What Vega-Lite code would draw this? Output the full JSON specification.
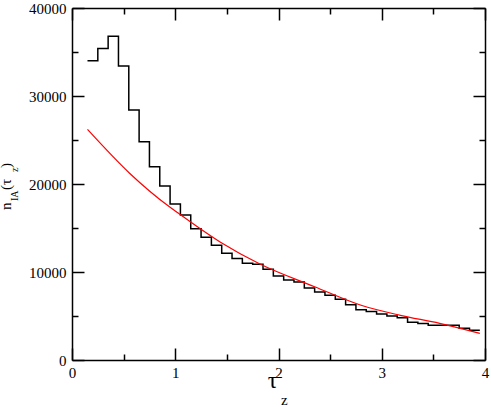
{
  "$schema": "https://vega.github.io/schema/vega-lite/v6.json",
  "width": 413,
  "height": 352,
  "autosize": {"type": "none"},
  "padding": {"left": 72, "top": 8, "right": 6, "bottom": 47},
  "background": "white",
  "config": {
    "view": {"stroke": null},
    "axis": {"grid": false, "domainColor": "black", "tickColor": "black", "labelColor": "black", "labelFont": "Liberation Serif", "labelFontSize": 15, "domainWidth": 1.5, "tickWidth": 1.5}
  },
  "datasets": {
    "hist": [
      {"t": 0.15, "n": 34000}, {"t": 0.25, "n": 35400}, {"t": 0.35, "n": 36800}, {"t": 0.45, "n": 33400},
      {"t": 0.55, "n": 28400}, {"t": 0.65, "n": 24800}, {"t": 0.75, "n": 21950}, {"t": 0.85, "n": 19780},
      {"t": 0.95, "n": 17730}, {"t": 1.05, "n": 16480}, {"t": 1.15, "n": 14920}, {"t": 1.25, "n": 13940},
      {"t": 1.35, "n": 13030}, {"t": 1.45, "n": 12120}, {"t": 1.55, "n": 11520}, {"t": 1.65, "n": 10990},
      {"t": 1.75, "n": 10870}, {"t": 1.85, "n": 10320}, {"t": 1.95, "n": 9545}, {"t": 2.05, "n": 9090},
      {"t": 2.15, "n": 8860}, {"t": 2.25, "n": 8180}, {"t": 2.35, "n": 7730}, {"t": 2.45, "n": 7350},
      {"t": 2.55, "n": 6900}, {"t": 2.65, "n": 6290}, {"t": 2.75, "n": 5700}, {"t": 2.85, "n": 5500},
      {"t": 2.95, "n": 5240}, {"t": 3.05, "n": 5010}, {"t": 3.15, "n": 4810}, {"t": 3.25, "n": 4300},
      {"t": 3.35, "n": 4140}, {"t": 3.45, "n": 3940}, {"t": 3.55, "n": 3940}, {"t": 3.65, "n": 3940},
      {"t": 3.75, "n": 3600}, {"t": 3.85, "n": 3380}, {"t": 3.95, "n": 3380}
    ],
    "fit": [
      {"t": 0.15, "n": 26200}, {"t": 0.56, "n": 21200}, {"t": 0.95, "n": 17350}, {"t": 1.04, "n": 16590},
      {"t": 1.43, "n": 13440}, {"t": 1.82, "n": 10910}, {"t": 2.35, "n": 8330}, {"t": 2.8, "n": 6220},
      {"t": 3.18, "n": 5080}, {"t": 3.56, "n": 4170}, {"t": 3.95, "n": 3030}
    ]
  },
  "layer": [
    {
      "data": {"name": "hist"},
      "mark": {"type": "line", "interpolate": "step-after", "color": "black", "strokeWidth": 1.5},
      "encoding": {
        "x": {"field": "t", "type": "quantitative", "scale": {"domain": [0, 4], "nice": false, "zero": false},
          "axis": {"orient": "bottom", "title": null, "values": [0, 0.5, 1, 1.5, 2, 2.5, 3, 3.5, 4],
            "labelExpr": "datum.value % 1 === 0 ? format(datum.value, 'd') : ''",
            "tickSize": {"condition": {"test": "datum.value % 1 === 0", "value": -12}, "value": -6},
            "labelPadding": 17, "labelFlush": false, "labelOverlap": false, "labelBound": false}},
        "y": {"field": "n", "type": "quantitative", "scale": {"domain": [0, 40000], "nice": false, "zero": false},
          "axis": {"orient": "left", "title": null, "values": [0, 5000, 10000, 15000, 20000, 25000, 30000, 35000, 40000],
            "labelExpr": "datum.value % 10000 === 0 ? format(datum.value, 'd') : ''",
            "tickSize": {"condition": {"test": "datum.value % 10000 === 0", "value": -12}, "value": -6},
            "labelPadding": 18, "labelFlush": false, "labelOverlap": false}}
      }
    },
    {
      "data": {"name": "fit"},
      "mark": {"type": "line", "interpolate": "monotone", "color": "#ff0000", "strokeWidth": 1.2},
      "encoding": {
        "x": {"field": "t", "type": "quantitative", "scale": {"domain": [0, 4], "nice": false, "zero": false},
          "axis": {"orient": "top", "title": null, "labels": false, "values": [0, 0.5, 1, 1.5, 2, 2.5, 3, 3.5, 4],
            "tickSize": {"condition": {"test": "datum.value % 1 === 0", "value": -12}, "value": -6}}},
        "y": {"field": "n", "type": "quantitative", "scale": {"domain": [0, 40000], "nice": false, "zero": false},
          "axis": {"orient": "right", "title": null, "labels": false, "values": [0, 5000, 10000, 15000, 20000, 25000, 30000, 35000, 40000],
            "tickSize": {"condition": {"test": "datum.value % 10000 === 0", "value": -12}, "value": -6}}}
      }
    },
    {
      "data": {"values": [{"s": "τ"}]},
      "mark": {"type": "text", "align": "center", "baseline": "alphabetic", "font": "Liberation Serif", "fontSize": 24, "color": "black"},
      "encoding": {
        "x": {"datum": 1.942, "type": "quantitative", "scale": {"domain": [0, 4], "nice": false, "zero": false}, "axis": null},
        "y": {"datum": -3182, "type": "quantitative", "scale": {"domain": [0, 40000], "nice": false, "zero": false}, "axis": null},
        "text": {"field": "s"}
      }
    },
    {
      "data": {"values": [{"s": "z"}]},
      "mark": {"type": "text", "align": "left", "baseline": "alphabetic", "font": "Liberation Serif", "fontSize": 15, "color": "black"},
      "encoding": {
        "x": {"datum": 2.024, "type": "quantitative", "scale": {"domain": [0, 4], "nice": false, "zero": false}, "axis": null},
        "y": {"datum": -5114, "type": "quantitative", "scale": {"domain": [0, 40000], "nice": false, "zero": false}, "axis": null},
        "text": {"field": "s"}
      }
    },
    {
      "data": {"values": [{"s": "n"}]},
      "mark": {"type": "text", "angle": 270, "align": "left", "baseline": "alphabetic", "font": "Liberation Serif", "fontSize": 15, "color": "black"},
      "encoding": {
        "x": {"datum": -0.59, "type": "quantitative", "scale": {"domain": [0, 4], "nice": false, "zero": false}, "axis": null},
        "y": {"datum": 17045, "type": "quantitative", "scale": {"domain": [0, 40000], "nice": false, "zero": false}, "axis": null},
        "text": {"field": "s"}
      }
    },
    {
      "data": {"values": [{"s": "IA"}]},
      "mark": {"type": "text", "angle": 270, "align": "left", "baseline": "alphabetic", "font": "Liberation Serif", "fontSize": 10, "color": "black"},
      "encoding": {
        "x": {"datum": -0.525, "type": "quantitative", "scale": {"domain": [0, 4], "nice": false, "zero": false}, "axis": null},
        "y": {"datum": 18068, "type": "quantitative", "scale": {"domain": [0, 40000], "nice": false, "zero": false}, "axis": null},
        "text": {"field": "s"}
      }
    },
    {
      "data": {"values": [{"s": "(τ"}]},
      "mark": {"type": "text", "angle": 270, "align": "left", "baseline": "alphabetic", "font": "Liberation Serif", "fontSize": 15, "color": "black"},
      "encoding": {
        "x": {"datum": -0.59, "type": "quantitative", "scale": {"domain": [0, 4], "nice": false, "zero": false}, "axis": null},
        "y": {"datum": 19318, "type": "quantitative", "scale": {"domain": [0, 40000], "nice": false, "zero": false}, "axis": null},
        "text": {"field": "s"}
      }
    },
    {
      "data": {"values": [{"s": "z"}]},
      "mark": {"type": "text", "angle": 270, "align": "left", "baseline": "alphabetic", "font": "Liberation Serif", "fontSize": 10, "color": "black"},
      "encoding": {
        "x": {"datum": -0.525, "type": "quantitative", "scale": {"domain": [0, 4], "nice": false, "zero": false}, "axis": null},
        "y": {"datum": 21364, "type": "quantitative", "scale": {"domain": [0, 40000], "nice": false, "zero": false}, "axis": null},
        "text": {"field": "s"}
      }
    },
    {
      "data": {"values": [{"s": ")"}]},
      "mark": {"type": "text", "angle": 270, "align": "left", "baseline": "alphabetic", "font": "Liberation Serif", "fontSize": 15, "color": "black"},
      "encoding": {
        "x": {"datum": -0.59, "type": "quantitative", "scale": {"domain": [0, 4], "nice": false, "zero": false}, "axis": null},
        "y": {"datum": 21818, "type": "quantitative", "scale": {"domain": [0, 40000], "nice": false, "zero": false}, "axis": null},
        "text": {"field": "s"}
      }
    }
  ],
  "resolve": {"axis": {"x": "independent", "y": "independent"}}
}
